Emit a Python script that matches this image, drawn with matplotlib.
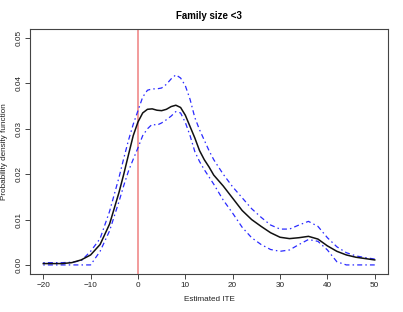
import matplotlib
matplotlib.use("Agg")
import matplotlib.pyplot as plt

# estimated ITE grid and density curves
ite = [-20, -18, -16, -14, -12, -10, -8, -6, -4, -3, -2, -1, 0, 1, 2, 3, 4, 5, 6, 7,
       8, 9, 10, 11, 12, 13, 14, 15, 16, 18, 20, 22, 24, 26, 28, 30, 32, 34, 36, 38,
       40, 42, 44, 46, 48, 50]
dens_mean = [0.0003, 0.0003, 0.0003, 0.0005, 0.0011, 0.0022, 0.0045, 0.0090, 0.0160, 0.0200,
             0.0243, 0.0285, 0.0315, 0.0335, 0.0343, 0.0344, 0.0341, 0.0340, 0.0343, 0.0349,
             0.0352, 0.0347, 0.0330, 0.0305, 0.0280, 0.0252, 0.0232, 0.0216, 0.0198, 0.0174,
             0.0147, 0.0120, 0.0100, 0.0085, 0.0071, 0.0061, 0.0058, 0.0060, 0.0063, 0.0057,
             0.0042, 0.0030, 0.0022, 0.0017, 0.0014, 0.0011]
dens_upper = [0.0005, 0.0005, 0.0005, 0.0006, 0.0009, 0.0030, 0.0058, 0.0118, 0.0193, 0.0235,
              0.0275, 0.0310, 0.0340, 0.0370, 0.0385, 0.0388, 0.0388, 0.0390, 0.0398, 0.0410,
              0.0419, 0.0412, 0.0395, 0.0365, 0.0325, 0.0298, 0.0275, 0.0252, 0.0232, 0.0200,
              0.0172, 0.0148, 0.0124, 0.0105, 0.0088, 0.0079, 0.0079, 0.0088, 0.0096, 0.0085,
              0.0060, 0.0040, 0.0027, 0.0020, 0.0016, 0.0013]
dens_lower = [0.0000, 0.0000, 0.0000, 0.0000, 0.0000, 0.0000, 0.0030, 0.0075, 0.0140, 0.0175,
              0.0207, 0.0233, 0.0258, 0.0285, 0.0300, 0.0310, 0.0308, 0.0313, 0.0320, 0.0328,
              0.0338, 0.0335, 0.0314, 0.0285, 0.0250, 0.0228, 0.0210, 0.0194, 0.0178, 0.0143,
              0.0114, 0.0083, 0.0060, 0.0045, 0.0034, 0.0030, 0.0033, 0.0045, 0.0056, 0.0052,
              0.0033, 0.0007, 0.0000, 0.0000, 0.0000, 0.0000]
x_ticks = [-20, -10, 0, 10, 20, 30, 40, 50]
y_ticks = [0.00, 0.01, 0.02, 0.03, 0.04, 0.05]

plt.rcParams.update({
    "font.family": ["Liberation Sans", "DejaVu Sans"],
    "font.size": 5.9,
})

fig = plt.figure(figsize=(4.03, 3.12), dpi=100)
ax = fig.add_axes([30 / 403, 38 / 312, 358 / 403, 245 / 312])

ax.axvline(0, color="#f08a8a", lw=1.2, zorder=1)
dash = (0, (1.2, 2.5, 4, 2.5))
ax.plot(ite, dens_upper, color="#2a2aff", lw=0.9, ls=dash, zorder=2)
ax.plot(ite, dens_lower, color="#2a2aff", lw=0.9, ls=dash, zorder=2)
ax.plot(ite, dens_mean, color="#111111", lw=1.1, zorder=3)

ax.set_xlim(-22.8, 52.8)
ax.set_ylim(-0.002, 0.052)
ax.set_xticks(x_ticks)
ax.set_yticks(y_ticks)
ax.set_yticklabels([f"{v:.2f}" for v in y_ticks], rotation=90, va="center")

for s in ax.spines.values():
    s.set_color("#444444")
    s.set_linewidth(0.8)
ax.tick_params(direction="out", length=3.6, width=0.7, color="#444444",
               labelcolor="#222222", pad=2)

ax.set_title("Family size <3", fontsize=7.0, fontweight="bold", pad=7.5)
ax.set_xlabel("Estimated ITE", color="#222222")
ax.set_ylabel("Probability density function", color="#222222")
ax.xaxis.set_label_coords(0.5, -0.106)
ax.yaxis.set_label_coords(-0.072, 0.5)
ax.xaxis.label.set_va("center")
ax.yaxis.label.set_va("center")

fig.savefig("out.png", dpi=100)
